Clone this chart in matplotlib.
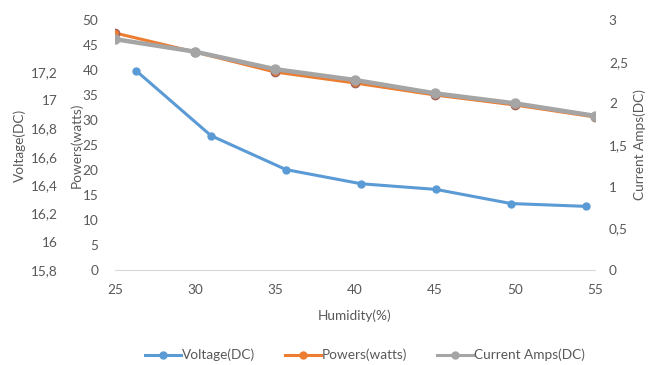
import matplotlib
matplotlib.use("Agg")
import matplotlib.pyplot as plt
from matplotlib.lines import Line2D

humidity = [25, 30, 35, 40, 45, 50, 55]
voltage = [17.21, 16.75, 16.51, 16.41, 16.37, 16.27, 16.25]
power = [47.4, 43.6, 39.6, 37.4, 35.0, 33.0, 30.6]
current = [2.77, 2.62, 2.41, 2.28, 2.12, 2.00, 1.85]

x_ticks = [25, 30, 35, 40, 45, 50, 55]
v_ticks = [15.8, 16.0, 16.2, 16.4, 16.6, 16.8, 17.0, 17.2]
v_labels = ["15,8", "16", "16,2", "16,4", "16,6", "16,8", "17", "17,2"]
p_ticks = [0, 5, 10, 15, 20, 25, 30, 35, 40, 45, 50]
c_ticks = [0, 0.5, 1, 1.5, 2, 2.5, 3]
c_labels = ["0", "0,5", "1", "1,5", "2", "2,5", "3"]

BLUE = "#5B9BD5"
ORANGE = "#ED7D31"
GRAY = "#A5A5A5"
TXT = "#595959"

plt.rcParams['font.family'] = ['Lato', 'DejaVu Sans']
plt.rcParams['font.size'] = 9.8

fig = plt.figure(figsize=(6.52, 3.65), dpi=100)
pos = [115/652, 1-270/365, 480/652, 250/365]

ax = fig.add_axes(pos)
ax.set_xlim(25, 55)
ax.set_ylim(0, 50)
for s in ["top", "right", "left"]:
    ax.spines[s].set_visible(False)
ax.spines["bottom"].set_color("#D9D9D9")
ax.set_xticks(x_ticks)
ax.set_yticks(p_ticks)
ax.tick_params(length=0, colors=TXT, pad=10)
ax.tick_params(axis='y', pad=12)
ax.set_xlabel("Humidity(%)", color=TXT, labelpad=10)
ax.set_ylabel("Powers(watts)", color=TXT, labelpad=0)

# voltage axis (blue line uses its own horizontal scale)
axv = fig.add_axes(pos, frameon=False)
axv.set_xlim(23.6, 55.6)
axv.set_ylim(15.8, 17.568)
axv.set_xticks([])
axv.set_yticks(v_ticks)
axv.set_yticklabels(v_labels)
axv.spines["left"].set_position(("outward", 29))
axv.spines["left"].set_visible(False)
axv.tick_params(length=0, colors=TXT, pad=12)
axv.set_ylabel("Voltage(DC)", color=TXT, labelpad=4)
axv.plot(humidity, voltage, color=BLUE, lw=2.2, marker="o", ms=5, zorder=3)

# current axis
axc = fig.add_axes(pos, frameon=False)
axc.set_xlim(25, 55)
axc.set_ylim(0, 3)
axc.set_xticks([])
axc.yaxis.tick_right()
axc.yaxis.set_label_position("right")
axc.set_yticks(c_ticks)
axc.set_yticklabels(c_labels)
axc.tick_params(length=0, colors=TXT, pad=10)
axc.set_ylabel("Current Amps(DC)", color=TXT, labelpad=4)

ax.plot(humidity, power, color=ORANGE, lw=2.2, marker="o", ms=6,
        mfc=ORANGE, mec="#A0625A", zorder=3)
axc.plot(humidity, current, color=GRAY, lw=3.2, marker="o", ms=6.5, zorder=4)

handles = [
    Line2D([], [], color=BLUE, lw=2.2, marker="o", ms=5),
    Line2D([], [], color=ORANGE, lw=2.2, marker="o", ms=5),
    Line2D([], [], color=GRAY, lw=2.2, marker="o", ms=5),
]
fig.legend(handles, ["Voltage(DC)", "Powers(watts)", "Current Amps(DC)"],
           loc="center", bbox_to_anchor=(0.56, 1-355/365), ncol=3,
           frameon=False, labelcolor=TXT, handlelength=2.6,
           handletextpad=0.1, columnspacing=2.2)

fig.savefig("out.png", dpi=100)
